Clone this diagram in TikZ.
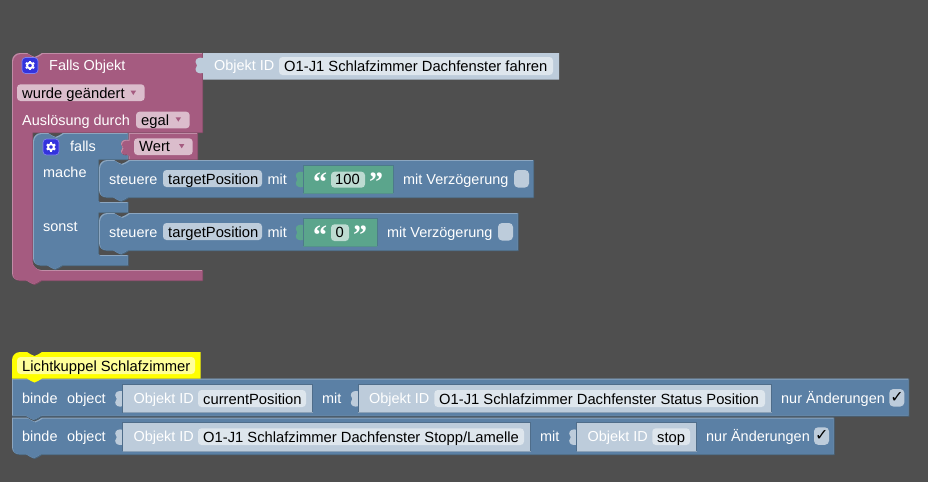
\documentclass[tikz,border=0pt]{standalone}
\usepackage{fontspec}
\setmainfont{Liberation Sans}
\newfontfamily\quotefont{Liberation Serif}[BoldFont={Liberation Serif Bold}]
\newfontfamily\checkfont{DejaVu Sans}
\definecolor{bgc}{HTML}{4F4F4F}
\definecolor{bluec}{HTML}{5B80A5}
\definecolor{bluel}{HTML}{8CA6C0}
\definecolor{blued}{HTML}{48667F}
\definecolor{magc}{HTML}{A55B80}
\definecolor{magl}{HTML}{C08CA6}
\definecolor{magd}{HTML}{844966}
\definecolor{magf}{HTML}{DBBDCC}
\definecolor{shc}{HTML}{BDCCDB}
\definecolor{shd}{HTML}{4F6D8A}
\definecolor{grc}{HTML}{5BA58C}
\definecolor{grd}{HTML}{4D7A8A}
\definecolor{grf}{HTML}{BDDBD1}
\definecolor{fieldc}{HTML}{DEE6ED}
\definecolor{ye}{HTML}{FFFF00}
\definecolor{yef}{HTML}{FFFF99}
\definecolor{gearc}{HTML}{3333DD}
\definecolor{gearl}{HTML}{8080F0}
\newcommand\noR[2]{ -- ({#1+15},#2) .. controls ({#1+18.5},{#2+1}) and ({#1+19},{#2+4}) .. ({#1+22.5},{#2+4}) .. controls ({#1+26},{#2+4}) and ({#1+26.5},{#2+1}) .. ({#1+30},#2)}
\newcommand\noL[2]{ -- ({#1+30},#2) .. controls ({#1+26.5},{#2+1}) and ({#1+26},{#2+4}) .. ({#1+22.5},{#2+4}) .. controls ({#1+19},{#2+4}) and ({#1+18.5},{#2+1}) .. ({#1+15},#2)}
\newcommand\tabL[2]{ -- (#1,{#2+15}) .. controls ({#1-4},{#2+16}) and ({#1-7.5},{#2+14.5}) .. ({#1-7.5},{#2+11}) .. controls ({#1-7.5},{#2+9}) and ({#1-6},{#2+9}) .. ({#1-6},{#2+7.5}) .. controls ({#1-6},{#2+6}) and ({#1-7.5},{#2+6}) .. ({#1-7.5},{#2+4}) .. controls ({#1-7.5},{#2+0.5}) and ({#1-4},{#2-1}) .. (#1,#2)}
\newcommand\cTL[2]{(#1,{#2+8}) .. controls (#1,{#2+3.6}) and ({#1+3.6},#2) .. ({#1+8},#2)}
\newcommand\cBL[2]{ -- ({#1+8},#2) .. controls ({#1+3.6},#2) and (#1,{#2-3.6}) .. (#1,{#2-8})}
\newcommand\cIn[2]{ -- (#1,{#2-8}) .. controls (#1,{#2-3.6}) and ({#1+3.6},#2) .. ({#1+8},#2)}
% bevelled block: base, light, dark, path
\newcommand\blk[4]{%
  \begin{scope}
    \clip #4;
    \fill[#3] (-5,-5) rectangle (935,490);
    \clip[xshift=-1pt,yshift=1pt] #4;
    \fill[#2] (-5,-5) rectangle (935,490);
    \fill[#1,xshift=1pt,yshift=-1pt] #4;
  \end{scope}}
% flat value block with a tab and a thin outline on its box: colour, edge, x1, y1, x2, y2
\newcommand\val[6]{%
  \fill[#1] (#3,#4) -- (#5,#4) -- (#5,#6) -- (#3,#6) \tabL{#3}{#4+7} -- cycle;
  \draw[#2,line width=.8pt] (#3,#6) -- (#3,#4) -- (#5,#4) -- (#5,#6);
  \draw[#2!45!#1,line width=.8pt] (#3,#6) -- (#5,#6);}
\newcommand\fld[5]{\fill[#5,rounded corners=3.5pt] (#1,#2) rectangle (#3,#4);}
\newcommand\tri[3]{\fill[#3] ({#1-2.7},{#2-2}) -- ({#1+2.7},{#2-2}) -- (#1,{#2+2.3}) -- cycle;}
\newcommand\gearbox[2]{%
  \fill[gearc,draw=gearl,line width=.7pt,rounded corners=3.5pt] ({#1-8},{#2-8}) rectangle ({#1+8},{#2+8});
  \draw[white,line width=1.9pt] (#1,#2) circle (2.9pt);
  \foreach \a in {30,90,...,330}{\draw[white,line width=2pt] ({#1+3.4*cos(\a)},{#2+3.4*sin(\a)}) -- ({#1+4.9*cos(\a)},{#2+4.9*sin(\a)});}}
\newcommand\cbx[2]{\fill[shc,rounded corners=4pt] (#1,#2) rectangle ({#1+15},{#2+17.5});}
\tikzset{
  wl/.style={anchor=base west,inner sep=0pt,text=white,font=\fontsize{14.45}{16}\selectfont},
  bl/.style={anchor=base west,inner sep=0pt,text=black,font=\fontsize{14.75}{16}\selectfont},
  ql/.style={anchor=base,inner sep=0pt,text=white,font=\quotefont\bfseries\fontsize{28}{28}\selectfont},
  ck/.style={anchor=center,inner sep=0pt,text=black,font=\checkfont\fontsize{16}{16}\selectfont}
}
\begin{document}
\begin{tikzpicture}[x=1pt,y=-1pt]
\useasboundingbox (0,0) rectangle (928,482);
\fill[bgc] (0,0) rectangle (928,482);
% --- Falls Objekt block
\blk{magc}{magl}{magd}{\cTL{12}{53} \noR{12}{53} -- (203,53) -- (203,133) -- (33,133) \cIn{33}{270} -- (203,270) -- (203,281) \noL{12}{281} \cBL{12}{281} -- cycle}
\fill[shc] (203,53) -- (559,53) -- (559,79.5) -- (203,79.5) \tabL{203}{58} -- cycle;
\gearbox{30}{65.5}
\node[wl] (t1) at (49,70) {Falls Objekt};
\node[wl] (t2) at (214,70) {Objekt ID};
\fld{279}{57}{553}{75}{fieldc}
\node[bl] (t3) at (284,71) {O1-J1 Schlafzimmer Dachfenster fahren};
\fld{17}{84.3}{144.7}{101}{magf}
\node[bl] (t4) at (22,98) {wurde geändert};
\tri{133.3}{92.7}{magc}
\node[wl] (t5) at (22,125) {Auslösung durch};
\fld{136}{111.7}{189.7}{128.3}{magf}
\node[bl] (t6) at (141,125) {egal};
\tri{178.3}{119.3}{magc}
% --- falls block
\blk{bluec}{bluel}{blued}{\cTL{33}{133} \noR{33}{133} -- (128.5,133) -- (128.5,160) -- (99,160) -- (99,202) -- (128.5,202) -- (128.5,213) -- (99,213) -- (99,255) -- (128.5,255) -- (128.5,266) \noL{33}{266} \cBL{33}{266} -- cycle}
\blk{magc}{magl}{magd}{(128.5,133) -- (198,133) -- (198,160) -- (128.5,160) \tabL{128.5}{140} -- cycle}
\gearbox{51}{147}
\node[wl] (t7) at (70,151.7) {falls};
\fld{134}{138.3}{192.7}{155}{magf}
\node[bl] (t8) at (139,151.7) {Wert};
\tri{181.7}{146}{magc}
\node[wl] (t9) at (43,177.7) {mache};
\node[wl] (t10) at (43,231) {sonst};
% --- steuere 1
\blk{bluec}{bluel}{blued}{\cTL{99}{160} \noR{99}{160} -- (534,160) -- (534,198) \noL{99}{198} \cBL{99}{198} -- cycle}
\node[wl] (t11) at (109,184) {steuere};
\fld{163}{170}{262}{187}{shc}
\node[bl] (t12) at (168,184) {targetPosition};
\node[wl] (t13) at (267.5,184) {mit};
\val{grc}{grd}{303.3}{165}{393.3}{193.3}
\node[ql] (q1) at (320,191) {“};
\fld{331}{171.7}{365}{187.7}{grf}
\node[bl] (t14) at (335,184.5) {100};
\node[ql] (q2) at (376,191) {”};
\node[wl] (t15) at (403,184) {mit Verzögerung};
\cbx{514}{170}
% --- steuere 2
\blk{bluec}{bluel}{blued}{\cTL{99}{213} \noR{99}{213} -- (518.5,213) -- (518.5,251) \noL{99}{251} \cBL{99}{251} -- cycle}
\node[wl] (t16) at (109,237.3) {steuere};
\fld{163}{223}{262}{240}{shc}
\node[bl] (t17) at (168,237.3) {targetPosition};
\node[wl] (t18) at (267.5,237.3) {mit};
\val{grc}{grd}{303.3}{218}{377.3}{246}
\node[ql] (q3) at (320,244) {“};
\fld{331}{224.3}{349}{241}{grf}
\node[bl] (t19) at (335.5,237.8) {0};
\node[ql] (q4) at (360,244) {”};
\node[wl] (t20) at (387,237.3) {mit Verzögerung};
\cbx{498}{223}
% --- bind rows
\blk{bluec}{bluel}{blued}{(12,417.5) \noR{12}{417.5} -- (834.7,417.5) -- (834.7,455) \noL{12}{455} \cBL{12}{455} -- cycle}
\blk{bluec}{bluel}{blued}{(12,378.5) -- (909.3,378.5) -- (909.3,416.7) \noL{12}{416.7} -- (12,416.7) -- cycle}
\fill[ye] \cTL{12}{352} \noR{12}{352} -- (200.5,352) -- (200.5,378.5) \noL{12}{378.5} -- (12,378.5) -- cycle;
\fld{17}{357}{195}{374}{yef}
\node[bl] (t21) at (22,371) {Lichtkuppel Schlafzimmer};
% row 1
\node[wl] (t22) at (22,403) {binde};
\node[wl] (t23) at (67,403) {object};
\val{shc}{shd}{122.7}{384.3}{312.5}{412.7}
\node[wl] (t24) at (133.5,403.5) {Objekt ID};
\fld{198}{390}{306}{407}{fieldc}
\node[bl] (t25) at (203,404) {currentPosition};
\node[wl] (t26) at (322,403) {mit};
\val{shc}{shd}{358.3}{384.3}{771.7}{412.7}
\node[wl] (t27) at (369,403.5) {Objekt ID};
\fld{434.3}{390}{765}{407}{fieldc}
\node[bl] (t28) at (439,404) {O1-J1 Schlafzimmer Dachfenster Status Position};
\node[wl] (t29) at (781,403) {nur Änderungen};
\cbx{889.3}{389}
\node[ck] (c1) at (897,397.5) {✓};
% row 2
\node[wl] (t30) at (22,441.3) {binde};
\node[wl] (t31) at (67,441.3) {object};
\val{shc}{shd}{122.7}{422.7}{530.7}{451}
\node[wl] (t32) at (133.5,441.8) {Objekt ID};
\fld{198}{428.3}{524}{445}{fieldc}
\node[bl] (t33) at (203,442.3) {O1-J1 Schlafzimmer Dachfenster Stopp/Lamelle};
\node[wl] (t34) at (540,441.3) {mit};
\val{shc}{shd}{576.7}{422.7}{696.7}{451}
\node[wl] (t35) at (587.5,441.8) {Objekt ID};
\fld{652.3}{428.3}{690}{445}{fieldc}
\node[bl] (t36) at (657,442.3) {stop};
\node[wl] (t37) at (706,441.3) {nur Änderungen};
\cbx{814}{427.3}
\node[ck] (c2) at (821.7,435.8) {✓};
\end{tikzpicture}
\end{document}
